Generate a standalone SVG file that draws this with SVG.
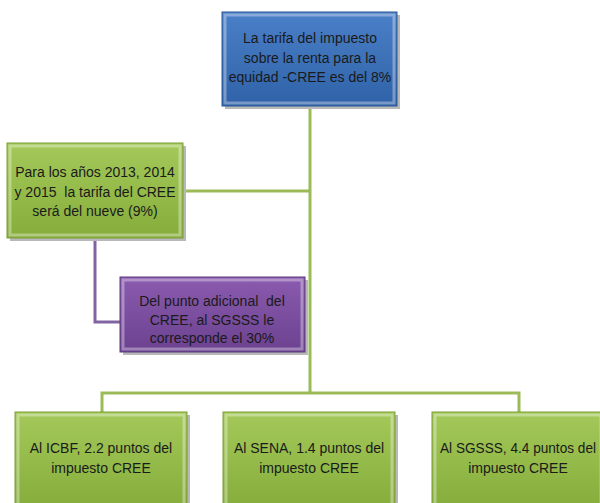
<svg xmlns="http://www.w3.org/2000/svg" width="600" height="503" viewBox="0 0 600 503">
<defs>
<linearGradient id="gBlue" x1="0" y1="0" x2="0" y2="1">
<stop offset="0" stop-color="#4a80c8"/><stop offset="1" stop-color="#2f62a8"/>
</linearGradient>
<linearGradient id="gGreen" x1="0" y1="0" x2="0" y2="1">
<stop offset="0" stop-color="#a4c95a"/><stop offset="1" stop-color="#86ad3c"/>
</linearGradient>
<linearGradient id="gPurple" x1="0" y1="0" x2="0" y2="1">
<stop offset="0" stop-color="#8a5aae"/><stop offset="1" stop-color="#6c4290"/>
</linearGradient>
</defs>
<style>
.shadow{fill:#b8b8b8}
.txt{font-family:"Liberation Sans",Arial,sans-serif;font-size:14px;fill:#1a1a1a;text-anchor:middle;white-space:pre}
.bev{fill:none;stroke:#ffffff;stroke-opacity:0.35;stroke-width:3}
.conG{fill:none;stroke:#9bbb59;stroke-width:3}
.conP{fill:none;stroke:#8064a2;stroke-width:3}
</style>
<rect width="600" height="503" fill="#ffffff"/>
<g id="connectors">
<path class="conG" d="M310 106 V393"/>
<path class="conG" d="M183 191 H310"/>
<path class="conG" d="M102 412 V393 H519 V412"/>
<path class="conP" d="M95 238 V322 H120"/>
</g>
<g id="top">
<rect class="shadow" x="225" y="15" width="175" height="94"/>
<rect x="222" y="12" width="175" height="94" fill="url(#gBlue)" stroke="#2a5896" stroke-width="1"/>
<rect class="bev" x="225" y="15" width="169" height="88"/>
<text class="txt" x="310" y="43">La tarifa del impuesto</text>
<text class="txt" x="310" y="63">sobre la renta para la</text>
<text class="txt" x="310" y="82">equidad -CREE es del 8%</text>
</g>
<g id="left">
<rect class="shadow" x="10" y="146" width="176" height="95"/>
<rect x="7" y="143" width="176" height="95" fill="url(#gGreen)" stroke="#7a9e34" stroke-width="1"/>
<rect class="bev" x="10" y="146" width="170" height="89"/>
<text class="txt" x="95" y="177">Para los años 2013, 2014</text>
<text class="txt" x="95" y="197">y 2015  la tarifa del CREE</text>
<text class="txt" x="95" y="216">será del nueve (9%)</text>
</g>
<g id="purple">
<rect class="shadow" x="123" y="280" width="185" height="75"/>
<rect x="120" y="277" width="185" height="75" fill="url(#gPurple)" stroke="#5e3a80" stroke-width="1"/>
<rect class="bev" x="123" y="280" width="179" height="69"/>
<text class="txt" x="212" y="306">Del punto adicional  del</text>
<text class="txt" x="212" y="325">CREE, al SGSSS le</text>
<text class="txt" x="212" y="343">corresponde el 30%</text>
</g>
<g id="icbf">
<rect class="shadow" x="18" y="415" width="172" height="95"/>
<rect x="15" y="412" width="172" height="95" fill="url(#gGreen)" stroke="#7a9e34" stroke-width="1"/>
<rect class="bev" x="18" y="415" width="166" height="95"/>
<text class="txt" x="101" y="453">Al ICBF, 2.2 puntos del</text>
<text class="txt" x="101" y="473">impuesto CREE</text>
</g>
<g id="sena">
<rect class="shadow" x="226" y="415" width="172" height="95"/>
<rect x="223" y="412" width="172" height="95" fill="url(#gGreen)" stroke="#7a9e34" stroke-width="1"/>
<rect class="bev" x="226" y="415" width="166" height="95"/>
<text class="txt" x="309" y="453">Al SENA, 1.4 puntos del</text>
<text class="txt" x="309" y="473">impuesto CREE</text>
</g>
<g id="sgsss">
<rect class="shadow" x="435" y="415" width="172" height="95"/>
<rect x="432" y="412" width="172" height="95" fill="url(#gGreen)" stroke="#7a9e34" stroke-width="1"/>
<rect class="bev" x="435" y="415" width="166" height="95"/>
<text class="txt" x="518" y="453" textLength="156" lengthAdjust="spacingAndGlyphs">Al SGSSS, 4.4 puntos del</text>
<text class="txt" x="518" y="473">impuesto CREE</text>
</g>
</svg>
